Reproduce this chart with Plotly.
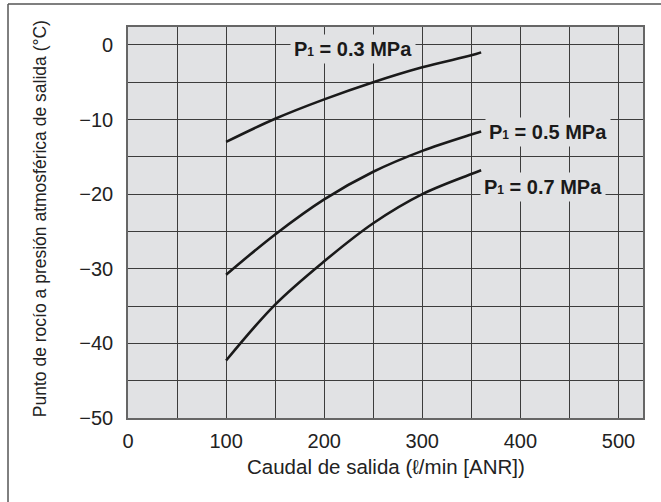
import plotly.graph_objects as go

# Data
flow = [100, 150, 200, 250, 300, 350, 360]
dew_03 = [-13.0, -9.9, -7.3, -5.0, -3.0, -1.4, -1.0]
dew_05 = [-30.8, -25.4, -20.7, -17.0, -14.2, -12.0, -11.6]
dew_07 = [-42.3, -34.8, -29.0, -23.9, -20.0, -17.3, -16.8]

series_names = ["P<span style='font-size:12px'>1</span> = 0.3 MPa",
                "P<span style='font-size:12px'>1</span> = 0.5 MPa",
                "P<span style='font-size:12px'>1</span> = 0.7 MPa"]
label_x = [229, 428, 423]
label_y = [-0.6, -11.7, -19.1]

x_ticks = [0, 100, 200, 300, 400, 500]
y_ticks = [0, -10, -20, -30, -40, -50]

x_title = "Caudal de salida (ℓ/min [ANR])"
y_title = "Punto de rocío a presión atmosférica de salida (°C)"

PLOT_BG = "#e1e2e4"
GRID = "#3c3c3c"
FONT = "Liberation Sans, Arial, sans-serif"

fig = go.Figure()
for ys in (dew_03, dew_05, dew_07):
    fig.add_trace(go.Scatter(x=flow, y=ys, mode="lines", line=dict(color="#1a1a1a", width=2.6, shape="spline"),
                             showlegend=False, hoverinfo="skip"))

for name, lx, ly in zip(series_names, label_x, label_y):
    fig.add_annotation(x=lx, y=ly, xref="x", yref="y", text="<b>" + name + "</b>", showarrow=False,
                       font=dict(family=FONT, size=20, color="#1a1a1a"), bgcolor=PLOT_BG, borderpad=3)

fig.add_annotation(x=0.5, y=-0.1253, xref="paper", yref="paper", text=x_title, showarrow=False,
                   xanchor="center", yanchor="middle", font=dict(family=FONT, size=20.5, color="#222"))
fig.add_annotation(x=-0.171, y=0.511, xref="paper", yref="paper", text=y_title, showarrow=False,
                   textangle=-90, xanchor="center", yanchor="middle", font=dict(family=FONT, size=17.5, color="#222"))

# outer frame lines (top and left)
fig.add_shape(type="line", xref="paper", yref="paper", x0=-0.233, x1=1.04, y0=1.0588, y1=1.0588,
              line=dict(color="#555", width=1.5))
fig.add_shape(type="line", xref="paper", yref="paper", x0=-0.233, x1=-0.233, y0=1.0588, y1=-0.22,
              line=dict(color="#555", width=1.5))

fig.update_xaxes(range=[0, 525], tickvals=x_ticks, ticktext=[str(v) for v in x_ticks],
                 showgrid=True, gridcolor=GRID, gridwidth=1.3,
                 minor=dict(dtick=50, tick0=0, showgrid=True, gridcolor=GRID, gridwidth=1.3),
                 showline=True, linecolor="#666", linewidth=1.6, mirror=True,
                 ticks="outside", ticklen=4, tickcolor="rgba(0,0,0,0)", zeroline=False,
                 tickfont=dict(family=FONT, size=20, color="#222"))
fig.update_yaxes(range=[-50, 2.4], tickvals=y_ticks,
                 showgrid=True, gridcolor=GRID, gridwidth=1.3,
                 minor=dict(dtick=5, tick0=0, showgrid=True, gridcolor=GRID, gridwidth=1.3),
                 showline=True, linecolor="#666", linewidth=1.6, mirror=True,
                 ticks="outside", ticklen=9, tickcolor="rgba(0,0,0,0)", zeroline=False,
                 tickfont=dict(family=FONT, size=20, color="#222"))

fig.update_layout(width=661, height=502, margin=dict(l=128, r=18, t=27, b=84),
                  plot_bgcolor=PLOT_BG, paper_bgcolor="white", showlegend=False)

fig.write_html("out.html", config={"displayModeBar": False},
               post_script="document.body.style.margin='0';")
